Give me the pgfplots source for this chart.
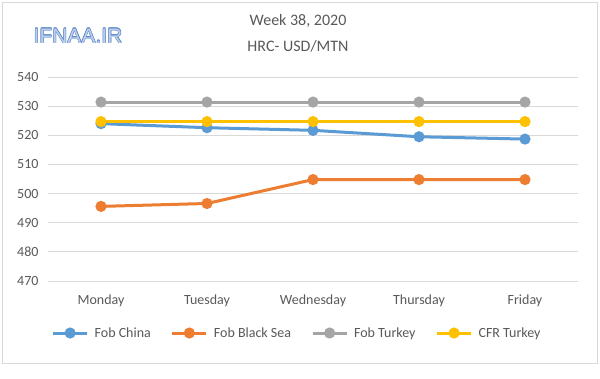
\documentclass[border=0pt]{standalone}
\usepackage{pgfplots}
\pgfplotsset{compat=1.18}
\usepackage{fontspec}
\setmainfont{Carlito}
\newfontfamily\logofont{Liberation Sans}
\definecolor{cblue}{HTML}{5B9BD5}
\definecolor{corange}{HTML}{ED7D31}
\definecolor{cgray}{HTML}{A5A5A5}
\definecolor{cyellow}{HTML}{FFC000}
\definecolor{gridc}{HTML}{D9D9D9}
\definecolor{txt}{HTML}{595959}
\definecolor{logoblue}{HTML}{5B86C8}
\begin{document}
\begin{tikzpicture}
\path (0pt,0pt) rectangle (600pt,-378pt);
\draw[gridc, line width=0.8pt] (2.5pt,-2.5pt) rectangle (597pt,-363pt);
\node[font=\fontsize{16}{18}\selectfont, text=txt] at (298pt,-21pt) {Week 38, 2020};
\node[font=\fontsize{16}{18}\selectfont, text=txt] at (298pt,-46pt) {HRC- USD/MTN};
\foreach \dx/\dy in {-0.45/0,0.45/0,0/-0.45,0/0.45,-0.32/-0.32,0.32/0.32,-0.32/0.32,0.32/-0.32}{
  \node[font=\logofont\fontsize{21}{24}\selectfont, text=logoblue] at (78pt+\dx pt,-36pt+\dy pt) {IFNAA.IR};
}
\node[font=\logofont\fontsize{21}{24}\selectfont, text=logoblue!40] at (78pt,-36pt) {IFNAA.IR};
\begin{axis}[
  at={(48pt,-281pt)}, anchor=south west,
  scale only axis, width=530pt, height=204pt,
  xmin=-0.5, xmax=4.5, ymin=470, ymax=540,
  ytick={470,480,...,540},
  xtick={0,1,2,3,4},
  xticklabels={Monday,Tuesday,Wednesday,Thursday,Friday},
  axis line style={draw=none},
  major tick length=0pt,
  ymajorgrids, grid style={gridc, line width=0.8pt},
  tick label style={font=\fontsize{14}{16}\selectfont, text=txt},
  /pgf/number format/assume math mode=true,
  yticklabel style={xshift=-6pt},
  xticklabel style={yshift=-10pt},
  legend columns=4,
  legend style={at={(axis description cs:0.47,-0.255)}, anchor=center, draw=none,
    font=\fontsize{14}{16}\selectfont, text=txt, column sep=4pt,
    /tikz/every even column/.append style={column sep=18pt}},
  legend image code/.code={\draw[mark repeat=2,mark phase=2] plot coordinates {(0pt,0pt)(17pt,0pt)(34pt,0pt)};},
  every axis plot/.append style={line width=3pt, mark=*, mark size=4pt},
]
\addplot[cblue, mark options={fill=cblue}] coordinates {(0,524) (1,522.6) (2,521.7) (3,519.5) (4,518.7)};
\addlegendentry{Fob China}
\addplot[corange, mark options={fill=corange}] coordinates {(0,495.6) (1,496.6) (2,504.8) (3,504.8) (4,504.8)};
\addlegendentry{Fob Black Sea}
\addplot[cgray, mark options={fill=cgray}] coordinates {(0,531.4) (1,531.4) (2,531.4) (3,531.4) (4,531.4)};
\addlegendentry{Fob Turkey}
\addplot[cyellow, mark options={fill=cyellow}] coordinates {(0,524.7) (1,524.7) (2,524.7) (3,524.7) (4,524.7)};
\addlegendentry{CFR Turkey}
\end{axis}
\end{tikzpicture}
\end{document}
